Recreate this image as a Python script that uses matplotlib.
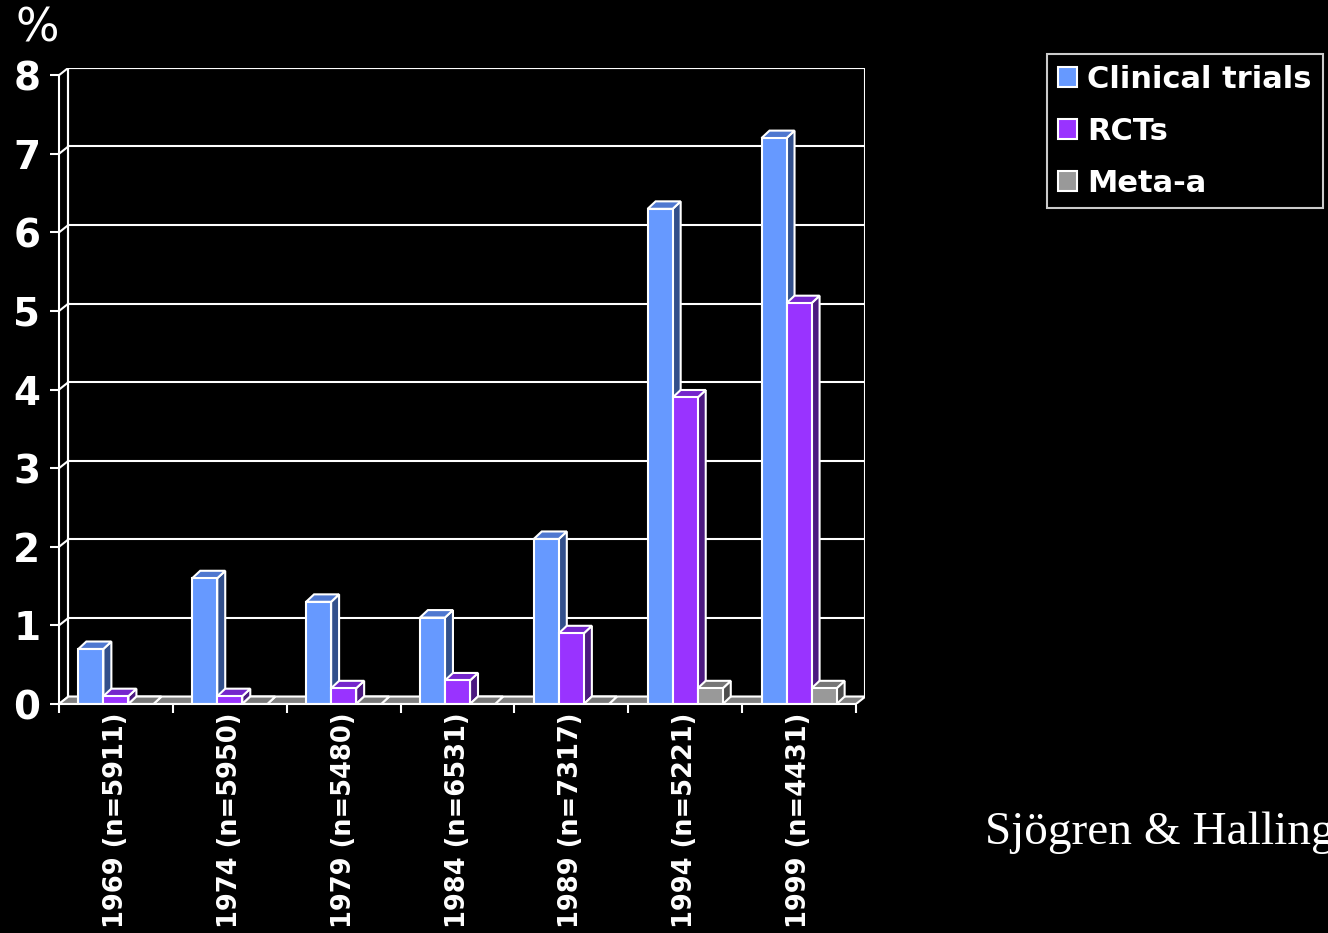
import numpy as np
import matplotlib
matplotlib.use("Agg")
import matplotlib.pyplot as plt
from matplotlib.patches import Polygon, Rectangle, Patch

# data
years = ["1969 (n=5911)", "1974 (n=5950)", "1979 (n=5480)", "1984 (n=6531)",
         "1989 (n=7317)", "1994 (n=5221)", "1999 (n=4431)"]
clinical = [0.7, 1.6, 1.3, 1.1, 2.1, 6.3, 7.2]
rcts = [0.1, 0.1, 0.2, 0.3, 0.9, 3.9, 5.1]
meta = [0.0, 0.0, 0.0, 0.0, 0.0, 0.2, 0.2]
series_names = ["Clinical trials", "RCTs", "Meta-a"]

# front / side / top colours for each series
front_cols = ["#6699FF", "#9933FF", "#999999"]
side_cols = ["#33508C", "#4C1A80", "#4D4D4D"]
top_cols = ["#4F78D0", "#7526CC", "#777777"]

W, H = 1328, 933
fig = plt.figure(figsize=(W / 100, H / 100), dpi=100, facecolor="black")

n = len(years)
ymax = 8
dxw, dyw = 0.083, 0.095   # depth of walls (data units)
dx, dy = 0.07, 0.095      # depth of bars
bw = 0.22                 # bar width

left_px, right_px = 59, 59 + (n + dxw) * 113.86
bot_px, top_px = 704, 704 - (ymax + dyw) * 78.6
ax = fig.add_axes([left_px / W, 1 - bot_px / H,
                   (right_px - left_px) / W, (bot_px - top_px) / H])
ax.set_facecolor("black")
ax.set_xlim(0, n + dxw)
ax.set_ylim(0, ymax + dyw)

lw = 1.5
# back wall
ax.add_patch(Polygon([(dxw, dyw), (n + dxw, dyw), (n + dxw, ymax + dyw), (dxw, ymax + dyw)],
                     closed=True, fc="black", ec="white", lw=lw, zorder=1))
# gridlines on back wall + slants on side wall
for k in range(ymax + 1):
    ax.plot([dxw, n + dxw], [k + dyw, k + dyw], color="white", lw=lw, zorder=1)
    ax.plot([0, dxw], [k, k + dyw], color="white", lw=lw, zorder=1)
ax.plot([dxw, dxw], [dyw, ymax + dyw], color="white", lw=lw, zorder=1)
# floor
ax.add_patch(Polygon([(0, 0), (n, 0), (n + dxw, dyw), (dxw, dyw)],
                     closed=True, fc="#808080", ec="white", lw=lw, zorder=2))

# bars
data = [clinical, rcts, meta]
for i in range(n):
    for j, vals in enumerate(data):
        v = vals[i]
        x0 = i + 0.5 + (j - 1) * bw - bw / 2
        ax.add_patch(Polygon([(x0 + bw, 0), (x0 + bw + dx, dy), (x0 + bw + dx, v + dy), (x0 + bw, v)],
                             closed=True, fc=side_cols[j], ec="white", lw=lw, zorder=3))
        ax.add_patch(Polygon([(x0, v), (x0 + bw, v), (x0 + bw + dx, v + dy), (x0 + dx, v + dy)],
                             closed=True, fc=top_cols[j], ec="white", lw=lw, zorder=3))
        ax.add_patch(Rectangle((x0, 0), bw, v, fc=front_cols[j], ec="white", lw=lw, zorder=3))

# axes styling
for s in ["top", "right"]:
    ax.spines[s].set_visible(False)
for s in ["left", "bottom"]:
    ax.spines[s].set_color("white")
    ax.spines[s].set_linewidth(lw)
    ax.spines[s].set_zorder(4)
ax.spines["left"].set_bounds(0, ymax)
ax.spines["bottom"].set_bounds(0, n)

ax.set_yticks(range(ymax + 1))
ax.set_yticklabels([str(k) for k in range(ymax + 1)], fontsize=28, fontweight="bold", color="white")
ax.tick_params(axis="y", colors="white", length=6.5, width=lw, pad=7)

ax.set_xticks(range(n + 1))
ax.set_xticklabels([])
ax.tick_params(axis="x", which="major", colors="white", length=6.5, width=lw)
ax.set_xticks(np.arange(n) + 0.5, minor=True)
ax.set_xticklabels(years, minor=True, rotation=90, fontsize=18.5, fontweight="bold",
                   color="white", va="top", ha="center")
ax.tick_params(axis="x", which="minor", length=0, pad=6)

fig.text(37 / W, 1 - 29 / H, "%", fontsize=33, color="white", ha="center", va="center")

handles = [Patch(facecolor=c, edgecolor="white", lw=1.5) for c in front_cols]
leg = fig.legend(handles, series_names, loc="upper left",
                 bbox_to_anchor=(1047 / W, 1 - 54 / H), bbox_transform=fig.transFigure,
                 frameon=True, fancybox=False, facecolor="black", edgecolor="white",
                 prop={"size": 22, "weight": "bold"}, labelcolor="white",
                 handlelength=0.62, handleheight=0.62, handletextpad=0.35,
                 labelspacing=0.75, borderpad=0.35, borderaxespad=0)
leg.get_frame().set_linewidth(1.5)

fig.text(985 / W, 1 - 844 / H, "Sjögren & Halling", fontsize=34, color="white",
         family="Liberation Serif", va="baseline", ha="left")

fig.savefig("out.png", dpi=100, facecolor="black")
